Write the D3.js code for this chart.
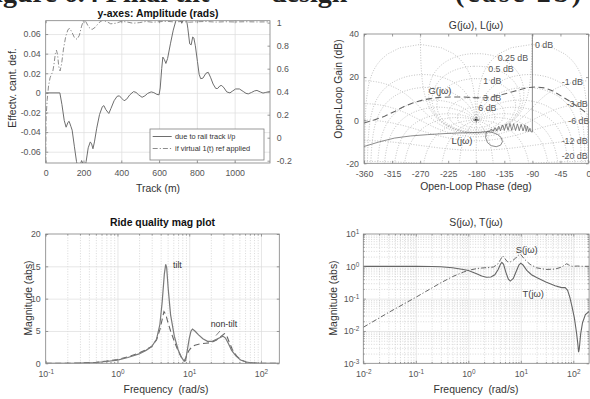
<!DOCTYPE html>
<html>
<head>
<meta charset="utf-8">
<script src="https://cdn.jsdelivr.net/npm/d3@7"></script>
<style>
  body { margin: 0; background: #fff; }
  svg text { font-family: "Liberation Sans", Arial, Helvetica, sans-serif; }
  svg text.caption { font-family: "Liberation Serif", "Times New Roman", serif; font-weight: bold; }
</style>
</head>
<body>
<script>
// ---------- panel 1: track response ----------
const trackTicks = [0, 200, 400, 600, 800, 1000];
const cantTicks = [-0.06, -0.04, -0.02, 0, 0.02, 0.04, 0.06];
const ampTicks = [-0.2, 0, 0.2, 0.4, 0.6, 0.8, 1];
// [track (m), effective cant deficiency (rad)]
const railTrack = [[0,0],[75,0],[86,-0.012],[98,-0.028],[108,-0.035],[118,-0.03],[124,-0.029],[133,-0.034],[140,-0.038],[152,-0.055],[163,-0.07],[172,-0.077],[182,-0.074],[190,-0.069],[197,-0.072],[205,-0.078],[214,-0.07],[225,-0.056],[236,-0.05],[243,-0.052],[250,-0.057],[258,-0.05],[270,-0.036],[285,-0.022],[300,-0.014],[308,-0.013],[318,-0.017],[334,-0.021],[345,-0.016],[362,-0.008],[378,-0.0035],[390,-0.003],[402,-0.0055],[415,-0.008],[428,-0.0065],[445,-0.002],[465,0.0013],[478,0.0005],[492,-0.002],[510,-0.0045],[525,-0.003],[540,-0.0005],[558,0.001],[572,0.0003],[588,-0.0015],[600,-0.002],[606,0.005],[614,0.025],[620,0.0365],[628,0.034],[636,0.030],[645,0.035],[660,0.05],[675,0.064],[688,0.073],[700,0.077],[712,0.076],[720,0.071],[728,0.074],[738,0.078],[745,0.075],[752,0.066],[762,0.05],[770,0.049],[778,0.057],[784,0.056],[792,0.048],[803,0.032],[812,0.019],[820,0.0145],[832,0.015],[848,0.020],[860,0.021],[872,0.016],[886,0.009],[900,0.0045],[910,0.0045],[922,0.0072],[932,0.0075],[944,0.005],[958,0.001],[975,0],[990,0.002],[1005,0.004],[1025,0.004],[1045,0.0015],[1060,-0.0005],[1072,-0.001],[1090,0.0005],[1105,0.002],[1118,0.0025],[1135,0.001],[1150,-0.0002],[1165,0.0005],[1187,0.0013]];
// [track (m), amplitude (rad)] on the right-hand axis
const virtualRef = [[0,-0.3],[1,0.0],[2,0.18],[8,0.33],[15,0.45],[23,0.52],[30,0.55],[37,0.57],[44,0.64],[51,0.73],[57,0.76],[63,0.72],[69,0.62],[76,0.58],[84,0.64],[94,0.77],[106,0.88],[118,0.94],[127,0.95],[138,0.92],[152,0.87],[166,0.855],[178,0.89],[190,0.97],[200,1.02],[212,1.01],[228,0.96],[245,0.94],[262,0.96],[282,1.0],[300,1.02],[322,1.01],[344,0.99],[372,0.995],[402,1.012],[432,1.005],[462,0.995],[495,1.0],[530,1.01],[565,1.004],[600,1.008],[640,1.012],[680,1.006],[720,1.01],[760,1.004],[800,1.008],[850,1.01],[900,1.005],[950,1.008],[1000,1.006],[1060,1.008],[1120,1.006],[1187,1.007]];

// ---------- panel 2: Nichols chart ----------
const phaseTicks = [-360, -315, -270, -225, -180, -135, -90, -45, 0];
const gainTicks = [-20, 0, 20, 40];
// [open-loop phase (deg), gain (dB)]
const nicholsG = [[-360,-1.3],[-345,0.0],[-327,1.8],[-310,4.2],[-295,6.5],[-280,8.2],[-264,9.5],[-250,10.2],[-238,10.6],[-220,10.8],[-201,10.8],[-185,10.5],[-170,10.3],[-155,10.8],[-138,11.9],[-122,13.2],[-106,14.5],[-95,15.2],[-85,15.4],[-70,15],[-57,13.5],[-43,11.1],[-30,8.8],[-22,7.2],[-10,4.8],[0,2.6]];
const nicholsL = [[-90,45],[-90,-5.5],[-92,-5.4],[-94,-3.8],[-96,-5.3],[-98,-2.8],[-100,-5.2],[-102,-2.2],[-105,-5.0],[-108,-1.9],[-111,-4.9],[-114,-1.7],[-117,-4.8],[-120,-1.6],[-123,-4.7],[-126,-1.5],[-129,-4.7],[-132,-1.7],[-135,-4.8],[-138,-2.2],[-141,-4.9],[-144,-2.8],[-147,-5.0],[-150,-3.4],[-153,-5.2],[-156,-4.1],[-159,-5.3],[-161,-5.0],[-164,-5.8],[-165,-8.0],[-162,-10.4],[-156,-11.8],[-148,-12.3],[-141,-11.6],[-138,-10.0],[-140,-8.1],[-146,-6.6],[-153,-5.8],[-160,-5.4],[-168,-5.4],[-174,-5.6],[-190,-5.8],[-206,-5.9],[-230,-6.2],[-258,-6.7],[-285,-7.3],[-311,-8.3],[-335,-10.0],[-360,-12.2]];
// closed-loop grid: magnitudes (dB) and phases (deg)
const mGrid = [6, 3, 1, 0.5, 0.25, 0, -1, -3, -6, -12, -20, -40];
const nGrid = [-1, -5, -10, -20, -30, -45, -60, -90, -120, -150, -180, -210, -240, -270, -300, -315, -330, -340, -350, -355, -359];
const mLabels = [["0 dB",-85.8,33.7],["0.25 dB",-145.6,27.5],["0.5 dB",-160.7,22.4],["1 dB",-168.7,17],["3 dB",-169,8.9],["6 dB",-176.7,4.3],["-1 dB",-42.9,16.3],["-3 dB",-35,6.1],["-6 dB",-32.4,-1.8],["-12 dB",-43,-11],["-20 dB",-43,-18]];

// ---------- panel 3: ride quality ----------
const rideTicksY = [0, 5, 10, 15, 20];
// [frequency (rad/s), magnitude]
const rideTilt = [[0.1,0],[0.2,0.005],[0.3,0.02],[0.5,0.12],[0.7,0.28],[1.0,0.5],[1.4,0.9],[2.0,1.45],[2.5,2.0],[3.0,2.6],[3.5,3.7],[3.9,6.0],[4.2,9.5],[4.5,13.8],[4.7,15.3],[4.85,14.8],[5.1,11.5],[5.5,7.5],[6.2,4.2],[7.0,2.1],[7.8,0.9],[8.5,0.35],[8.9,0.4],[9.4,2.0],[10,3.8],[10.6,5.0],[11.1,5.3],[12,5.0],[13.5,4.4],[15.5,3.8],[18,3.4],[21,3.4],[24,3.7],[27,4.0],[29.5,4.2],[32,3.9],[35,3.1],[39,2.0],[45,1.1],[52,0.5],[62,0.2],[78,0.04],[100,0.01],[180,0]];
const rideNonTilt = [[0.1,0],[0.2,0.01],[0.3,0.03],[0.5,0.15],[0.7,0.34],[1.0,0.6],[1.4,1.0],[2.0,1.6],[2.5,2.1],[3.0,2.6],[3.5,3.6],[3.9,5.2],[4.2,6.8],[4.45,8.0],[4.7,7.6],[5.0,6.5],[5.5,5.0],[6.2,3.4],[7.0,1.9],[7.8,0.9],[8.5,0.35],[9.0,0.9],[9.8,1.9],[10.8,2.5],[12,2.8],[14,3.0],[17,3.1],[20,3.2],[24,3.6],[28,4.2],[31,4.6],[33,4.4],[36,3.3],[40,2.1],[46,1.1],[53,0.5],[62,0.2],[78,0.04],[100,0.01],[180,0]];

// ---------- panel 4: sensitivity functions ----------
const compl = [[0.01,1.0],[0.1,1.0],[0.2,0.99],[0.3,0.97],[0.5,0.9],[0.8,0.8],[1.0,0.74],[1.4,0.6],[1.8,0.5],[2.2,0.46],[2.7,0.47],[3.2,0.55],[3.7,0.8],[4.1,1.15],[4.35,1.33],[4.7,1.15],[5.2,0.65],[5.8,0.4],[6.3,0.35],[7.2,0.42],[8.2,0.7],[9.2,1.1],[10,1.25],[11,1.1],[13,0.75],[16,0.55],[20,0.45],[30,0.33],[45,0.25],[60,0.22],[70,0.22],[78,0.18],[86,0.11],[95,0.055],[105,0.025],[115,0.009],[122,0.004],[126,0.0022],[130,0.0028],[138,0.008],[150,0.018],[170,0.032],[200,0.04]];
const sens = [[0.01,0.013],[0.03,0.037],[0.1,0.11],[0.3,0.31],[0.5,0.48],[0.8,0.66],[1.0,0.75],[1.5,0.86],[2.0,0.9],[3.0,0.95],[3.6,1.15],[4.1,1.6],[4.5,2.1],[4.9,1.8],[5.5,1.4],[6.2,1.35],[7.0,1.5],[8.0,1.8],[9.0,2.2],[9.8,2.4],[10.5,2.1],[12,1.6],[15,1.15],[20,0.9],[30,0.8],[45,0.82],[60,0.95],[70,1.12],[75,1.2],[82,1.1],[95,1.0],[120,1.02],[150,1.0],[200,1.0]];

// ---------- drawing ----------
const svg = d3.select("body").append("svg").attr("width", 590).attr("height", 399);
const AX = "#808080", TXT = "#555", GRID = "#dcdcdc", MINOR = "#c8c8c8";
const FS = 8.8;

function clipFor(id, p) {
  svg.append("clipPath").attr("id", id).append("rect")
    .attr("x", p.x0).attr("y", p.y0).attr("width", p.x1 - p.x0).attr("height", p.y1 - p.y0);
  return `url(#${id})`;
}
function box(g, p) {
  g.append("rect").attr("x", p.x0).attr("y", p.y0).attr("width", p.x1 - p.x0).attr("height", p.y1 - p.y0)
    .attr("fill", "none").attr("stroke", AX).attr("stroke-width", 0.8);
}
function grid(g, p, scale, values, dir, color, dash) {
  const ax = dir === "x" ? d3.axisBottom(scale) : d3.axisLeft(scale);
  const gg = g.append("g")
    .attr("transform", dir === "x" ? `translate(0,${p.y1})` : `translate(${p.x0},0)`)
    .call(ax.tickValues(values).tickSize(dir === "x" ? -(p.y1 - p.y0) : -(p.x1 - p.x0)).tickFormat(""));
  gg.select(".domain").remove();
  gg.selectAll("line").attr("stroke", color).attr("stroke-width", 0.7).attr("stroke-dasharray", dash || null);
}
// inward tick marks (and labels when fmt is given)
function axis(g, p, scale, values, side, len, fmt, pad) {
  const make = { bottom: d3.axisBottom, top: d3.axisTop, left: d3.axisLeft, right: d3.axisRight }[side];
  const tr = { bottom: `translate(0,${p.y1})`, top: `translate(0,${p.y0})`, left: `translate(${p.x0},0)`, right: `translate(${p.x1},0)` }[side];
  const ax = make(scale).tickValues(values).tickSizeInner(-len).tickSizeOuter(0).tickPadding(pad || 0)
    .tickFormat(fmt || (() => ""));
  const gg = g.append("g").attr("transform", tr).call(ax);
  gg.select(".domain").remove();
  gg.selectAll("line").attr("stroke", AX).attr("stroke-width", 0.8);
  gg.selectAll("text").attr("fill", TXT).attr("font-size", FS).attr("font-family", null);
  return gg;
}
function powLabels(gg) {
  gg.selectAll(".tick text").each(function (d) {
    const t = d3.select(this);
    const e = Math.round(Math.log10(d));
    t.text(null);
    t.append("tspan").text("10");
    t.append("tspan").attr("dy", "-0.45em").attr("font-size", 6.4).text(String(e));
  });
}
function label(text, x, y, opts = {}) {
  const t = svg.append("text").attr("x", x).attr("y", y).text(text)
    .attr("font-size", opts.size || 10.4).attr("fill", opts.fill || "#333")
    .attr("text-anchor", opts.anchor || "middle")
    .style("white-space", "pre");
  if (opts.bold) t.attr("font-weight", "bold");
  if (opts.rotate) t.attr("transform", `rotate(-90,${x},${y})`);
  return t;
}
function minorsLog(lo, hi) {
  const out = [];
  for (let e = Math.floor(Math.log10(lo)); e <= Math.ceil(Math.log10(hi)); e++)
    for (let k = 2; k <= 9; k++) { const v = k * Math.pow(10, e); if (v > lo && v < hi) out.push(v); }
  return out;
}

// caption line running off the top edge
svg.append("text").attr("class", "caption").attr("x", -22).attr("y", 2).attr("font-size", 28).attr("fill", "#222").text("Figure 6.4  Final tilt");
svg.append("text").attr("class", "caption").attr("x", 271).attr("y", 2).attr("font-size", 28).attr("fill", "#222").text("design");
svg.append("text").attr("class", "caption").attr("x", 455).attr("y", 2).attr("font-size", 28).attr("fill", "#222")
  .attr("textLength", 126).attr("lengthAdjust", "spacing").text("(case 2b)");

// ===== panel 1 =====
{
  const p = { x0: 45.7, x1: 270, y0: 20.7, y1: 163 };
  const x = d3.scaleLinear([0, 1187], [p.x0, p.x1]);
  const yl = d3.scaleLinear([-0.0715, 0.0736], [p.y1, p.y0]);
  const yr = d3.scaleLinear([-0.22, 1.017], [p.y1, p.y0]);
  const g = svg.append("g");
  g.append("rect").attr("x", p.x0).attr("y", p.y0).attr("width", p.x1 - p.x0).attr("height", p.y1 - p.y0).attr("fill", "#fff");
  grid(g, p, x, trackTicks.slice(1), "x", GRID);
  grid(g, p, yl, cantTicks, "y", GRID);
  const clip = clipFor("c1", p);
  g.append("path").datum(virtualRef).attr("clip-path", clip)
    .attr("d", d3.line().x(d => x(d[0])).y(d => yr(d[1])))
    .attr("fill", "none").attr("stroke", "#808080").attr("stroke-width", 0.9).attr("stroke-dasharray", "5,2,1.2,2");
  g.append("path").datum(railTrack).attr("clip-path", clip)
    .attr("d", d3.line().x(d => x(d[0])).y(d => yl(d[1])))
    .attr("fill", "none").attr("stroke", "#6e6e6e").attr("stroke-width", 1);
  axis(g, p, x, trackTicks, "bottom", 2.5, d => String(d), 7.2);
  axis(g, p, x, trackTicks, "top", 2.5);
  axis(g, p, yl, cantTicks, "left", 2.5, d => String(d), 5);
  axis(g, p, yr, ampTicks, "right", 2.5, d => String(d), 6.7);
  box(g, p);
  // legend
  const lg = g.append("g");
  lg.append("rect").attr("x", 150).attr("y", 129).attr("width", 114).attr("height", 31)
    .attr("fill", "#fff").attr("stroke", AX).attr("stroke-width", 0.8);
  lg.append("line").attr("x1", 152.7).attr("x2", 171.7).attr("y1", 136.5).attr("y2", 136.5)
    .attr("stroke", "#6e6e6e").attr("stroke-width", 1);
  lg.append("line").attr("x1", 152.7).attr("x2", 171.7).attr("y1", 148.5).attr("y2", 148.5)
    .attr("stroke", "#808080").attr("stroke-width", 0.9).attr("stroke-dasharray", "5,2,1.2,2");
  lg.append("text").attr("x", 175).attr("y", 139.2).attr("font-size", 7.4).attr("fill", "#333").text("due to rail track i/p");
  lg.append("text").attr("x", 175).attr("y", 151.2).attr("font-size", 7.4).attr("fill", "#333").text("if virtual 1(t) ref applied");
  label("y-axes: Amplitude (rads)", 158, 16.5, { bold: true, fill: "#111" });
  label("Track (m)", 158, 192);
  label("Effectv. cant. def.", 15.5, 88, { rotate: true });
}

// ===== panel 2 (Nichols) =====
{
  const p = { x0: 364, x1: 588.5, y0: 34, y1: 163.3 };
  const x = d3.scaleLinear([-360, 0], [p.x0, p.x1]);
  const y = d3.scaleLinear([-20, 40], [p.y1, p.y0]);
  const g = svg.append("g");
  const clip = clipFor("c2", p);
  const gridG = g.append("g").attr("clip-path", clip);
  const line = d3.line().defined(d => isFinite(d[1]) && d[1] > -80 && d[1] < 80).x(d => x(d[0])).y(d => y(d[1]));
  const rad = Math.PI / 180;
  // constant closed-loop magnitude contours
  mGrid.forEach(mdb => {
    const M = Math.pow(10, mdb / 20), pts = [];
    for (let th = -359.75; th < 0; th += 0.25) {
      const tr = M * Math.cos(th * rad), ti = M * Math.sin(th * rad);
      const dr = 1 - tr, di = -ti, den = dr * dr + di * di;
      const lr = (tr * dr + ti * di) / den, li = (ti * dr - tr * di) / den;
      let ph;
      if (mdb > 0) { ph = Math.atan2(li, lr) / rad; if (ph > 0) ph -= 360; }
      else ph = th - Math.atan2(di, dr) / rad;
      pts.push([ph, 10 * Math.log10(lr * lr + li * li)]);
    }
    if (mdb > 0) pts.push(pts[0]);
    gridG.append("path").attr("d", line(pts)).attr("fill", "none")
      .attr("stroke", "#a8a8a8").attr("stroke-width", 0.7).attr("stroke-dasharray", "1,1.6");
  });
  // constant closed-loop phase contours
  nGrid.forEach(psi => {
    const pts = [];
    for (let k = -60; k <= 60; k += 0.1) {
      const M = Math.pow(10, k / 20);
      const tr = M * Math.cos(psi * rad), ti = M * Math.sin(psi * rad);
      const dr = 1 - tr, di = -ti, den = dr * dr + di * di;
      const lr = (tr * dr + ti * di) / den, li = (ti * dr - tr * di) / den;
      const ph = psi - Math.atan2(di, dr) / rad;
      pts.push([ph, 10 * Math.log10(lr * lr + li * li)]);
    }
    gridG.append("path").attr("d", line(pts)).attr("fill", "none")
      .attr("stroke", "#a8a8a8").attr("stroke-width", 0.7).attr("stroke-dasharray", "1,1.6");
  });
  // critical point
  g.append("path").attr("d", `M${x(-180) - 3},${y(0)}h6M${x(-180)},${y(0) - 3}v6`)
    .attr("stroke", "#777").attr("stroke-width", 0.8);
  mLabels.forEach(([t, ph, gdb]) => {
    g.append("text").attr("x", x(ph)).attr("y", y(gdb)).attr("font-size", 8.8).attr("fill", "#555").text(t);
  });
  g.append("path").datum(nicholsG).attr("clip-path", clip)
    .attr("d", d3.line().x(d => x(d[0])).y(d => y(d[1])))
    .attr("fill", "none").attr("stroke", "#666").attr("stroke-width", 1.1).attr("stroke-dasharray", "6,3.5");
  g.append("path").datum(nicholsL).attr("clip-path", clip)
    .attr("d", d3.line().x(d => x(d[0])).y(d => y(d[1])))
    .attr("fill", "none").attr("stroke", "#5a5a5a").attr("stroke-width", 0.7);
  g.append("text").attr("x", 440).attr("y", 93.5).attr("font-size", 9.4).attr("fill", "#444").attr("text-anchor", "middle").text("G(jω)");
  g.append("text").attr("x", 462).attr("y", 143.5).attr("font-size", 9.4).attr("fill", "#444").attr("text-anchor", "middle").text("L(jω)");
  axis(g, p, x, phaseTicks, "bottom", 2.5, d => String(d), 7.2);
  axis(g, p, x, phaseTicks, "top", 2.5);
  axis(g, p, y, gainTicks, "left", 2.5, d => String(d), 5);
  axis(g, p, y, gainTicks, "right", 2.5);
  box(g, p);
  label("G(jω), L(jω)", 476, 28.5);
  label("Open-Loop Phase (deg)", 476, 190);
  label("Open-Loop Gain (dB)", 342, 89, { rotate: true });
}

// ===== panel 3 (ride quality) =====
{
  const p = { x0: 45.7, x1: 279.3, y0: 234, y1: 363.3 };
  const x = d3.scaleLog([0.1, 180], [p.x0, p.x1]);
  const y = d3.scaleLinear([0, 20], [p.y1, p.y0]);
  const g = svg.append("g");
  const decs = [0.1, 1, 10, 100];
  const minors = minorsLog(0.1, 180);
  grid(g, p, x, minors, "x", MINOR, "1,1.6");
  grid(g, p, x, decs.slice(1), "x", GRID);
  grid(g, p, y, rideTicksY.slice(1, 4), "y", GRID);
  const clip = clipFor("c3", p);
  const ln = d3.line().x(d => x(d[0])).y(d => y(d[1]));
  g.append("path").datum(rideNonTilt).attr("clip-path", clip).attr("d", ln)
    .attr("fill", "none").attr("stroke", "#666").attr("stroke-width", 1.1).attr("stroke-dasharray", "6,3.5");
  g.append("path").datum(rideTilt).attr("clip-path", clip).attr("d", ln)
    .attr("fill", "none").attr("stroke", "#7a7a7a").attr("stroke-width", 1.2);
  powLabels(axis(g, p, x, decs, "bottom", 2.5, d => String(d), 7.4));
  axis(g, p, x, minors, "bottom", 1.4);
  axis(g, p, x, decs, "top", 2.5);
  axis(g, p, x, minors, "top", 1.4);
  axis(g, p, y, rideTicksY, "left", 2.5, d => String(d), 5);
  axis(g, p, y, rideTicksY, "right", 2.5);
  box(g, p);
  g.append("text").attr("x", 173).attr("y", 268).attr("font-size", 8.8).attr("fill", "#333").text("tilt");
  g.append("text").attr("x", 210.7).attr("y", 326.5).attr("font-size", 8.8).attr("fill", "#333").text("non-tilt");
  g.append("line").attr("x1", 220).attr("y1", 331).attr("x2", 216).attr("y2", 335.5).attr("stroke", "#666").attr("stroke-width", 0.8);
  label("Ride quality mag plot", 162.5, 226, { bold: true, fill: "#111" });
  label("Frequency  (rad/s)", 166, 393);
  label("Magnitude (abs)", 31.5, 298, { rotate: true });
}

// ===== panel 4 (S and T) =====
{
  const p = { x0: 363.3, x1: 589.1, y0: 234, y1: 363.3 };
  const x = d3.scaleLog([0.01, 200], [p.x0, p.x1]);
  const y = d3.scaleLog([0.001, 10], [p.y1, p.y0]);
  const g = svg.append("g");
  const xd = [0.01, 0.1, 1, 10, 100], yd = [0.001, 0.01, 0.1, 1, 10];
  const xm = minorsLog(0.01, 200), ym = minorsLog(0.001, 10);
  grid(g, p, x, xm, "x", MINOR, "1,1.6");
  grid(g, p, y, ym, "y", MINOR, "1,1.6");
  grid(g, p, x, xd.slice(1), "x", GRID);
  grid(g, p, y, yd.slice(1, 4), "y", GRID);
  const clip = clipFor("c4", p);
  const ln = d3.line().x(d => x(d[0])).y(d => y(d[1]));
  g.append("path").datum(sens).attr("clip-path", clip).attr("d", ln)
    .attr("fill", "none").attr("stroke", "#666").attr("stroke-width", 1).attr("stroke-dasharray", "5,2,1.2,2");
  g.append("path").datum(compl).attr("clip-path", clip).attr("d", ln)
    .attr("fill", "none").attr("stroke", "#666").attr("stroke-width", 1.1);
  powLabels(axis(g, p, x, xd, "bottom", 2.5, d => String(d), 7.4));
  axis(g, p, x, xm, "bottom", 1.4);
  axis(g, p, x, xd, "top", 2.5);
  axis(g, p, x, xm, "top", 1.4);
  powLabels(axis(g, p, y, yd, "left", 2.5, d => String(d), 4));
  axis(g, p, y, ym, "left", 1.4);
  axis(g, p, y, yd, "right", 2.5);
  axis(g, p, y, ym, "right", 1.4);
  box(g, p);
  g.append("text").attr("x", 526.7).attr("y", 252.5).attr("font-size", 9.4).attr("fill", "#444").attr("text-anchor", "middle").text("S(jω)");
  g.append("text").attr("x", 533.3).attr("y", 296.8).attr("font-size", 9.4).attr("fill", "#444").attr("text-anchor", "middle").text("T(jω)");
  label("S(jω), T(jω)", 476, 226);
  label("Frequency  (rad/s)", 476, 393);
  label("Magnitude (abs)", 337, 298, { rotate: true });
}
</script>
</body>
</html>
